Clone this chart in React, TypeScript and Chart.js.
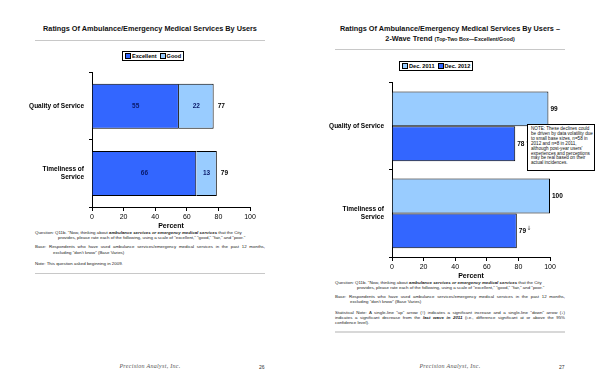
import React, { useEffect, useRef } from "react";
import { Chart, registerables } from "chart.js";
Chart.register(...registerables);

const FONT = "Arial, 'Liberation Sans', sans-serif";
const DARK = "#3366FF";
const LIGHT = "#99CCFF";

// Left page chart
const leftCategories: (string | string[])[] = ["Quality of Service", ["Timeliness of", "Service"]];
const excellentValues = [55, 66];
const goodValues = [22, 13];
const leftTotals = [77, 79];

// Right page chart
const rightCategories: (string | string[])[] = ["Quality of Service", ["Timeliness of", "Service"]];
const dec2011Values = [99, 100];
const dec2012Values = [78, 79];
const dec2012Down = [true, true];

const axisMax = 100;
const axisStep = 20;

function makeScales() {
  return {
    x: {
      stacked: true,
      min: 0,
      max: axisMax,
      ticks: { stepSize: axisStep, color: "#000", font: { family: FONT, size: 7 }, padding: 2, maxRotation: 0 },
      grid: { drawOnChartArea: false, tickLength: 4, color: "#000" },
      border: { color: "#000", width: 1 },
      title: { display: true, text: "Percent", color: "#000", font: { family: FONT, size: 7, weight: "bold" }, padding: { top: 0, bottom: 0 } },
      afterFit: (s: any) => { s.height = 23; },
    },
    y: {
      stacked: true,
      ticks: { color: "#000", font: { family: FONT, size: 6.5, weight: "bold" }, padding: 5 },
      grid: { drawOnChartArea: false, tickLength: 3, color: "#000", offset: true },
      border: { color: "#000", width: 1 },
      afterFit: (s: any) => { s.width = 92; },
    },
  };
}

function ChartBox(props: { config: any; left: number; top: number; width: number; height: number }) {
  const ref = useRef<HTMLCanvasElement>(null);
  useEffect(() => {
    const c = new Chart(ref.current as HTMLCanvasElement, props.config);
    return () => c.destroy();
  }, []);
  return (
    <div style={{ position: "absolute", left: props.left, top: props.top, width: props.width, height: props.height }}>
      <canvas ref={ref} width={props.width} height={props.height} style={{ width: props.width, height: props.height, display: "block" }} />
    </div>
  );
}

const leftLabelPlugin = {
  id: "leftLabels",
  afterDatasetsDraw(chart: any) {
    const ctx = chart.ctx;
    ctx.save();
    ctx.font = `bold 6.5px ${FONT}`;
    ctx.textBaseline = "middle";
    chart.data.datasets.forEach((ds: any, di: number) => {
      const meta = chart.getDatasetMeta(di);
      meta.data.forEach((el: any, i: number) => {
        ctx.fillStyle = "#0a1a6a";
        ctx.textAlign = "center";
        ctx.fillText(String(ds.data[i]), (el.x + el.base) / 2, el.y);
      });
    });
    const last = chart.getDatasetMeta(chart.data.datasets.length - 1);
    last.data.forEach((el: any, i: number) => {
      ctx.fillStyle = "#000";
      ctx.textAlign = "left";
      ctx.fillText(String(leftTotals[i]), el.x + 4, el.y);
    });
    ctx.restore();
  },
};

const rightLabelPlugin = {
  id: "rightLabels",
  afterDatasetsDraw(chart: any) {
    const ctx = chart.ctx;
    ctx.save();
    ctx.textBaseline = "middle";
    ctx.textAlign = "left";
    chart.data.datasets.forEach((ds: any, di: number) => {
      const meta = chart.getDatasetMeta(di);
      meta.data.forEach((el: any, i: number) => {
        ctx.font = `bold 6.5px ${FONT}`;
        ctx.fillStyle = "#000";
        const t = String(ds.data[i]);
        ctx.fillText(t, el.x + 2, el.y);
        if (di === 1 && dec2012Down[i]) {
          const w = ctx.measureText(t).width;
          ctx.font = `6px 'DejaVu Sans', ${FONT}`;
          ctx.fillStyle = "#333";
          ctx.fillText("\u2193", el.x + 2.5 + w, el.y - 2);
        }
      });
    });
    ctx.restore();
  },
};

const leftConfig = {
  type: "bar",
  data: {
    labels: leftCategories,
    datasets: [
      { label: "Excellent", data: excellentValues, backgroundColor: DARK, borderColor: "#000", borderWidth: 1, barPercentage: 0.67, categoryPercentage: 1 },
      { label: "Good", data: goodValues, backgroundColor: LIGHT, borderColor: "#000", borderWidth: 1, barPercentage: 0.67, categoryPercentage: 1 },
    ],
  },
  options: {
    indexAxis: "y",
    animation: false,
    responsive: false,
    maintainAspectRatio: false,
    devicePixelRatio: 1,
    layout: { padding: { left: 0, right: 30, top: 3, bottom: 0 } },
    plugins: { legend: { display: false }, tooltip: { enabled: false } },
    scales: makeScales(),
  },
  plugins: [leftLabelPlugin],
};

const rScales: any = makeScales();
rScales.x.stacked = false;
rScales.y.stacked = false;

const rightConfig = {
  type: "bar",
  data: {
    labels: rightCategories,
    datasets: [
      { label: "Dec. 2011", data: dec2011Values, backgroundColor: LIGHT, borderColor: "#000", borderWidth: 1, barPercentage: 1, categoryPercentage: 0.8 },
      { label: "Dec. 2012", data: dec2012Values, backgroundColor: DARK, borderColor: "#000", borderWidth: 1, barPercentage: 1, categoryPercentage: 0.8 },
    ],
  },
  options: {
    indexAxis: "y",
    animation: false,
    responsive: false,
    maintainAspectRatio: false,
    devicePixelRatio: 1,
    layout: { padding: { left: 0, right: 50, top: 3, bottom: 0 } },
    plugins: { legend: { display: false }, tooltip: { enabled: false } },
    scales: rScales,
  },
  plugins: [rightLabelPlugin],
};

function Legend(props: { x: number; y: number; items: { label: string; color: string }[] }) {
  return (
    <div style={{ position: "absolute", left: props.x, top: props.y, height: 8, padding: "0 2px", border: "1px solid #000", background: "#fff", display: "flex", alignItems: "center", gap: 3, font: `bold 5.6px ${FONT}`, whiteSpace: "nowrap" }}>
      {props.items.map((it) => (
        <span key={it.label} style={{ display: "flex", alignItems: "center", gap: 1 }}>
          <span style={{ display: "inline-block", width: 4, height: 4, background: it.color, border: "1px solid #000" }} />
          {it.label}
        </span>
      ))}
    </div>
  );
}

function TLine(props: { x: number; y: number; w: number; justify?: boolean; children: React.ReactNode }) {
  return (
    <div style={{ position: "absolute", left: props.x, top: props.y - 3, width: props.w, height: 6, lineHeight: "6px", font: `4.4px ${FONT}`, color: "#222", whiteSpace: props.justify ? "normal" : "nowrap", textAlign: props.justify ? "justify" : "left", textAlignLast: props.justify ? "justify" : "auto" } as any}>
      {props.children}
    </div>
  );
}

const BI = (p: { children: React.ReactNode }) => <b><i>{p.children}</i></b>;

export default function App() {
  const titleStyle: React.CSSProperties = { position: "absolute", textAlign: "center", font: `bold 7.3px ${FONT}`, color: "#111", whiteSpace: "nowrap" };
  const footer: React.CSSProperties = { position: "absolute", width: 300, top: 363, textAlign: "center", font: "italic 6px 'Liberation Serif', serif", color: "#555", letterSpacing: 0.3 };
  return (
    <div style={{ position: "absolute", left: 0, top: 0, width: 600, height: 388, background: "#fff", overflow: "hidden" }}>
      {/* Left page */}
      <div style={{ ...titleStyle, left: 0, width: 300, top: 24 }}>Ratings Of Ambulance/Emergency Medical Services By Users</div>
      <div style={{ position: "absolute", left: 35, top: 40, width: 230, height: 1, background: "#c8c8c8" }} />
      <Legend x={122} y={51} items={[{ label: "Excellent", color: DARK }, { label: "Good", color: LIGHT }]} />
      <ChartBox config={leftConfig} left={0} top={60} width={280} height={170} />
      <TLine x={35} y={233} w={230}>Question: Q11b. "Now, thinking about <BI>ambulance services or emergency medical services</BI> that the City</TLine>
      <TLine x={58} y={238} w={207}>provides, please rate each of the following, using a scale of "excellent," "good," "fair," and "poor."</TLine>
      <TLine x={35} y={247} w={230} justify>Base: Respondents who have used ambulance services/emergency medical services in the past 12 months,</TLine>
      <TLine x={53} y={253} w={212}>excluding "don't know" (Base Varies)</TLine>
      <TLine x={35} y={264} w={230}>Note: This question asked beginning in 2009.</TLine>
      <div style={{ position: "absolute", left: 35, top: 273, width: 230, height: 1, background: "#c8c8c8" }} />
      <div style={{ ...footer, left: 0 }}>Precision Analyst, Inc.</div>
      <div style={{ position: "absolute", left: 259, top: 364, font: `5px ${FONT}`, color: "#333" }}>26</div>

      {/* Right page */}
      <div style={{ ...titleStyle, left: 300, width: 300, top: 24 }}>Ratings Of Ambulance/Emergency Medical Services By Users –</div>
      <div style={{ ...titleStyle, left: 300, width: 300, top: 34 }}>2-Wave Trend <span style={{ fontSize: 5.3 }}>(Top-Two Box—Excellent/Good)</span></div>
      <div style={{ position: "absolute", left: 335, top: 49, width: 230, height: 1, background: "#c8c8c8" }} />
      <Legend x={399} y={61} items={[{ label: "Dec. 2011", color: LIGHT }, { label: "Dec. 2012", color: DARK }]} />
      <ChartBox config={rightConfig} left={300} top={70} width={300} height={210} />
      <div style={{ position: "absolute", left: 527, top: 124, width: 62, height: 43, border: "1px solid #000", background: "#fff", padding: "2px 1px 0 3px", font: `4.6px ${FONT}`, lineHeight: "4.9px", color: "#111" }}>
        NOTE: These declines could be driven by data volatility due to small base sizes, n=58 in 2012 and n=8 in 2011, although post-year users' experiences and perceptions may be real based on their actual incidences.
      </div>
      <TLine x={335} y={283} w={230}>Question: Q11b. "Now, thinking about <BI>ambulance services or emergency medical services</BI> that the City</TLine>
      <TLine x={357} y={288} w={208}>provides, please rate each of the following, using a scale of "excellent," "good," "fair," and "poor."</TLine>
      <TLine x={335} y={297} w={230} justify>Base: Respondents who have used ambulance services/emergency medical services in the past 12 months,</TLine>
      <TLine x={350} y={302} w={215}>excluding "don't know" (Base Varies)</TLine>
      <TLine x={335} y={313} w={230} justify>Statistical Note: A single-line "up" arrow (↑) indicates a significant increase and a single-line "down" arrow (↓)</TLine>
      <TLine x={335} y={318} w={230} justify>indicates a significant decrease from the <BI>last wave in 2011</BI> (i.e., difference significant at or above the 95%</TLine>
      <TLine x={335} y={323} w={230}>confidence level).</TLine>
      <div style={{ position: "absolute", left: 335, top: 331, width: 230, height: 2, background: "#d8d8d8" }} />
      <div style={{ ...footer, left: 300 }}>Precision Analyst, Inc.</div>
      <div style={{ position: "absolute", left: 559, top: 364, font: `5px ${FONT}`, color: "#333" }}>27</div>
    </div>
  );
}
